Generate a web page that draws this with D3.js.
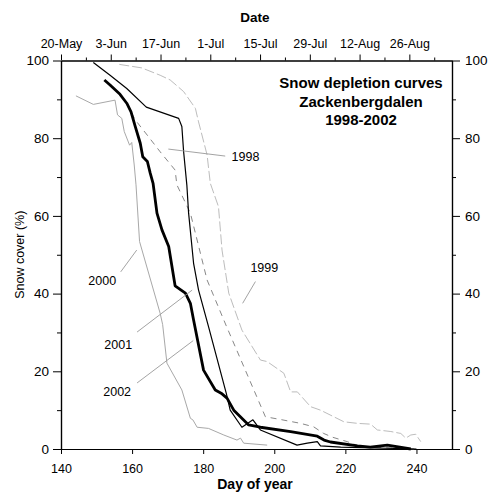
<!DOCTYPE html>
<html><head><meta charset="utf-8">
<script src="https://cdn.jsdelivr.net/npm/d3@7"></script>
<style>
html,body{margin:0;padding:0;background:#fff;}
text{font-family:"Liberation Sans",Arial,sans-serif;}
</style></head>
<body><svg id="c" width="497" height="495"></svg>
<script>
// ---- data ----
const xTicks = [140,160,180,200,220,240];
const yTicks = [0,20,40,60,80,100];
const dateTickDays = [140,154,168,182,196,210,224,238];
const dateTickLabels = ["20-May","3-Jun","17-Jun","1-Jul","15-Jul","29-Jul","12-Aug","26-Aug"];

const days1998 = [156.6,158.5,160.9,164.6,167.9,172.1,172.6,176.4,181.1,186.4,197.5,201.7,207.4,211.1,213.9,216.5,220.5,224.3,232,240];
const vals1998 = [91.3,88.8,84.7,80.4,76.5,71.8,68.0,60.7,43.5,31.9,8.3,7.6,6.6,5.7,4.0,3.0,1.9,0.6,0.3,0];

const days1999 = [156.4,162.7,167.9,170.7,174.5,177.8,178.7,181.1,182.0,184.3,185.3,187.2,190.9,196.1,198.0,202.7,204.6,206.5,210.2,213.0,219.6,223.4,227.1,229.0,232.8,235.6,237.0,238.4,239.8,241.2];
const vals1999 = [99.0,98.1,96.2,95.0,92.0,87.7,84.2,75.7,68.4,62.4,51.2,40.1,30.6,22.9,22.5,19.5,14.7,14.7,10.9,10.0,7.0,6.6,6.4,4.9,4.5,4.0,2.8,3.6,3.8,1.9];

const days2000 = [144.2,149.1,155.2,155.9,157.1,157.8,159.3,159.9,160.6,161.1,162.1,167.9,168.6,169.8,174.0,176.4,177.1,178.3,181.5,185.8,189.5,190.5,191.4,198.0];
const vals2000 = [90.9,88.7,89.8,86.0,85.1,81.7,78.2,78.9,73.1,68.0,53.4,34.9,32.0,22.1,15.2,7.9,7.5,5.6,5.3,3.6,2.3,2.8,1.5,1.0];

const days2001 = [149.1,153.8,158.5,164.0,173.1,174.0,174.5,175.4,175.9,177.3,178.7,181.5,186.5,187.6,190.9,194.0,196.1,206.4,209.3,212.1,213.0,218.7,240];
const vals2001 = [99.5,96.2,92.8,88.0,85.1,83.0,76.5,68.0,60.7,47.8,40.9,31.5,14.3,10.0,5.6,7.5,4.9,1.0,1.5,1.9,0.8,0.5,0];

const days2002 = [152.2,153.8,156.6,158.5,159.7,160.9,162.3,163.0,164.3,165.1,165.9,167.0,168.4,170.3,172.1,175.0,176.4,177.3,180.1,183.4,185.3,186.7,188.6,192.8,196.1,204.6,212.1,214.0,215.8,223.4,227.0,231.8,238.4];
const vals2002 = [95.0,93.7,91.3,89.0,86.8,83.0,78.7,75.2,74.0,71.0,68.4,60.7,56.4,52.1,42.0,40.1,37.5,33.2,20.3,15.2,14.2,13.1,10.0,6.2,5.6,4.5,3.3,2.3,1.8,0.8,0.5,1.0,0.0];

const titleLines = ["Snow depletion curves","Zackenbergdalen","1998-2002"];

// ---- layout ----
const svg = d3.select("#c");
const L=61, R=452, T=60.5, B=449;
const x = d3.scaleLinear().domain([140,250]).range([L,R]);
const y = d3.scaleLinear().domain([0,100]).range([B,T]);

function styleAxis(g){
  g.selectAll("path").attr("stroke","#000").attr("stroke-width",1.2);
  g.selectAll("line").attr("stroke","#000").attr("stroke-width",1);
  g.selectAll("text").attr("fill","#000").style("font-family","'Liberation Sans',Arial,sans-serif");
}
// bottom axis
const gb = svg.append("g").attr("transform",`translate(0,${B})`)
  .call(d3.axisBottom(x).tickValues(xTicks).tickSize(5).tickPadding(10).tickSizeOuter(0));
styleAxis(gb); gb.selectAll("text").attr("font-size",12.5);
// top axis minor + major
const gtm = svg.append("g").attr("transform",`translate(0,${T})`)
  .call(d3.axisTop(x).tickValues(d3.range(147,250,14)).tickSize(3).tickFormat("").tickSizeOuter(0));
styleAxis(gtm);
const gt = svg.append("g").attr("transform",`translate(0,${T})`)
  .call(d3.axisTop(x).tickValues(dateTickDays).tickSize(6).tickPadding(7).tickSizeOuter(0)
    .tickFormat((d,i)=>dateTickLabels[i]));
styleAxis(gt); gt.selectAll("text").attr("font-size",12.5);
// left axis
const glm = svg.append("g").attr("transform",`translate(${L},0)`)
  .call(d3.axisLeft(y).tickValues(d3.range(10,100,20)).tickSize(4).tickFormat("").tickSizeOuter(0));
styleAxis(glm);
const gl = svg.append("g").attr("transform",`translate(${L},0)`)
  .call(d3.axisLeft(y).tickValues(yTicks).tickSize(8).tickPadding(4).tickSizeOuter(0));
styleAxis(gl); gl.selectAll("text").attr("font-size",13.5);
// right axis
const grm = svg.append("g").attr("transform",`translate(${R},0)`)
  .call(d3.axisRight(y).tickValues(d3.range(10,100,20)).tickSize(4).tickFormat("").tickSizeOuter(0));
styleAxis(grm);
const gr = svg.append("g").attr("transform",`translate(${R},0)`)
  .call(d3.axisRight(y).tickValues(yTicks).tickSize(8).tickPadding(5).tickSizeOuter(0));
styleAxis(gr); gr.selectAll("text").attr("font-size",13.5);

// axis titles
svg.append("text").attr("x",255).attr("y",22).attr("text-anchor","middle")
  .attr("font-size",13.5).attr("font-weight","bold").text("Date");
svg.append("text").attr("x",255).attr("y",489).attr("text-anchor","middle")
  .attr("font-size",14).attr("font-weight","bold").text("Day of year");
svg.append("text").attr("transform",`translate(24,${(T+B)/2}) rotate(-90)`).attr("text-anchor","middle")
  .attr("font-size",12.5).text("Snow cover (%)");

// title
titleLines.forEach((t,i)=>{
  svg.append("text").attr("x",361).attr("y",88+i*18.5).attr("text-anchor","middle")
    .attr("font-size",15).attr("font-weight","bold").text(t);
});

// curves
const line = d3.line().x(d=>x(d[0])).y(d=>y(d[1]));
const zip = (a,b)=>a.map((d,i)=>[d,b[i]]);
const series = [
  {d:zip(days2000,vals2000), stroke:"#a8a8a8", w:1, dash:null},
  {d:zip(days1999,vals1999), stroke:"#b4b4b4", w:0.9, dash:"10,3"},
  {d:zip(days1998,vals1998), stroke:"#888", w:1, dash:"6,5"},
  {d:zip(days2001,vals2001), stroke:"#000", w:1.2, dash:null},
  {d:zip(days2002,vals2002), stroke:"#000", w:2.8, dash:null},
];
series.forEach(s=>{
  svg.append("path").datum(s.d).attr("d",line).attr("fill","none")
    .attr("stroke",s.stroke).attr("stroke-width",s.w)
    .attr("stroke-linejoin","round")
    .attr("stroke-dasharray",s.dash);
});

// curve labels with leader lines (positions in data units)
const labels = [
  {t:"1998", lx:191.9, ly:75.2, a:[170.2,77.2], b:[186.2,75.4]},
  {t:"1999", lx:197.2, ly:46.6, a:[194.7,43.1], b:[191.1,37.5]},
  {t:"2000", lx:151.6, ly:43.2, a:[156.8,45.6], b:[161.3,51.2]},
  {t:"2001", lx:156.1, ly:26.8, a:[161.4,30.1], b:[176.9,40.9]},
  {t:"2002", lx:155.8, ly:14.7, a:[161.4,17.0], b:[177.2,27.9]},
];
labels.forEach(l=>{
  svg.append("line").attr("x1",x(l.a[0])).attr("y1",y(l.a[1])).attr("x2",x(l.b[0])).attr("y2",y(l.b[1]))
    .attr("stroke","#999").attr("stroke-width",0.9);
  svg.append("text").attr("x",x(l.lx)).attr("y",y(l.ly)).attr("text-anchor","middle")
    .attr("dominant-baseline","central").attr("font-size",12.5).text(l.t);
});
</script></body></html>
